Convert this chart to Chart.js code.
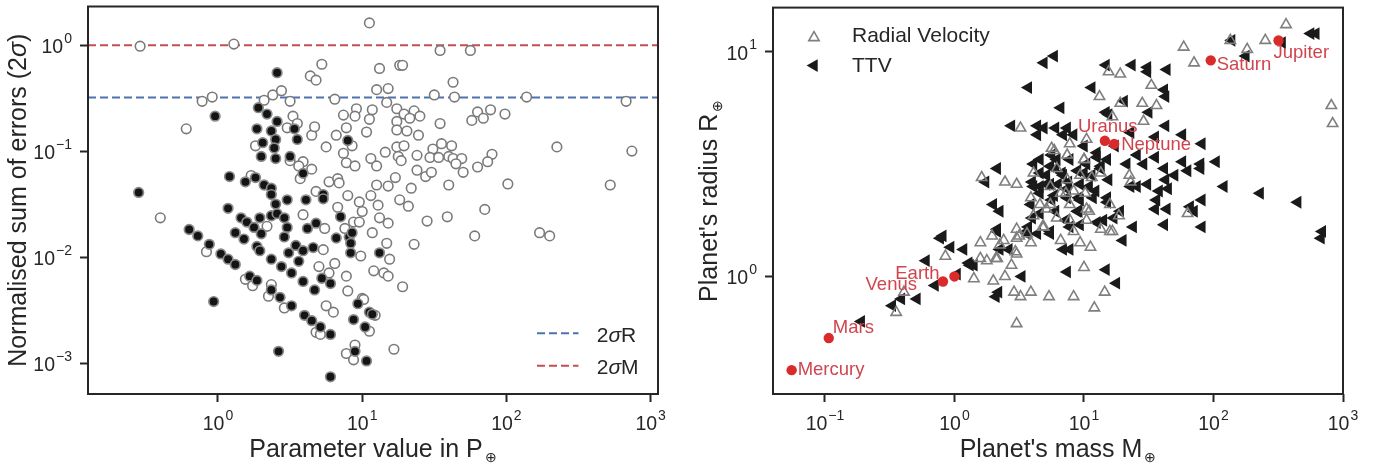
<!DOCTYPE html>
<html>
<head>
<meta charset="utf-8">
<script src="https://cdn.jsdelivr.net/npm/chart.js@4.4.1/dist/chart.umd.min.js"></script>
<style>
  body { margin: 0; background: #fff; }
  #wrap { position: relative; width: 1384px; height: 470px; }
  .box { position: absolute; top: 0; height: 470px; }
</style>
</head>
<body>
<div id="wrap">
  <div class="box" style="left:0;width:690px"><canvas id="c1" width="690" height="470"></canvas></div>
  <div class="box" style="left:690px;width:694px"><canvas id="c2" width="694" height="470"></canvas></div>
</div>
<script>
// ---- data (log10 values: [log x, log y]) ----
const openLog = [
  [-0.54,-0.01],[0.11,0.01],[-0.11,-0.53],[-0.04,-0.49],[-0.22,-0.79],[0.32,-0.52],[0.38,-0.47],[0.44,-0.43],
  [0.50,-0.53],[0.64,-0.29],[0.68,-0.33],[0.48,-0.78],[0.52,-0.67],[0.55,-0.74],[0.65,-0.85],[0.26,-0.95],
  [0.50,-1.09],[0.59,-1.10],[0.56,-1.14],[0.65,-1.17],[0.57,-1.26],[0.23,-1.23],[0.68,-1.38],
  [-0.40,-1.63],[0.59,-1.60],[0.34,-1.71],[-0.08,-1.95],[0.19,-2.21],[0.24,-2.27],[0.37,-2.26],[0.35,-2.37],
  [0.46,-2.48],[0.68,-2.71],
  [1.05,0.21],[1.54,-0.05],[1.75,-0.05],[0.72,-0.18],[1.12,-0.22],[1.26,-0.19],[1.28,-0.19],[1.63,-0.35],
  [1.10,-0.42],[1.18,-0.41],[1.17,-0.54],[0.81,-0.51],[1.50,-0.47],[1.64,-0.49],[0.87,-0.66],[0.96,-0.60],
  [0.95,-0.67],[1.07,-0.61],[1.05,-0.70],[1.24,-0.60],[1.29,-0.65],[1.36,-0.62],[1.33,-0.69],[1.40,-0.67],
  [1.24,-0.72],[1.24,-0.80],[1.31,-0.81],[1.39,-0.85],[1.54,-0.74],[1.76,-0.71],[1.80,-0.63],[1.84,-0.69],
  [1.89,-0.61],[0.67,-0.77],[0.89,-0.78],[0.82,-0.85],[0.93,-0.95],[0.75,-0.96],[1.03,-0.82],[0.87,-1.02],
  [0.89,-1.11],[0.95,-1.14],[1.06,-1.07],[1.10,-1.14],[1.16,-1.01],[1.24,-0.96],[1.29,-0.95],[1.25,-1.05],
  [1.27,-1.09],[1.38,-1.04],[1.49,-0.98],[1.55,-0.93],[1.62,-0.95],[1.47,-1.06],[1.53,-1.06],[1.60,-1.05],
  [1.63,-1.07],[1.69,-1.07],[1.65,-1.12],[1.90,-1.03],[1.87,-1.10],[1.80,-1.15],[1.70,-1.20],[1.38,-1.18],
  [1.44,-1.24],[1.48,-1.20],[1.60,-1.32],[0.77,-1.29],[0.83,-1.26],[0.84,-1.30],[1.10,-1.32],[1.18,-1.33],
  [1.23,-1.25],[1.34,-1.35],[0.90,-1.42],[0.98,-1.48],[1.06,-1.42],[1.11,-1.51],[1.26,-1.46],[1.32,-1.52],
  [1.00,-1.57],[0.83,-1.53],[1.12,-1.63],[1.18,-1.68],[1.45,-1.66],[1.59,-1.62],[1.85,-1.55],[1.78,-1.80],
  [0.74,-1.73],[0.88,-1.73],[0.94,-1.67],[0.98,-1.67],[1.07,-1.77],[1.17,-1.87],[0.99,-1.99],[1.19,-2.02],
  [1.36,-1.88],[0.73,-1.93],[0.81,-2.06],[0.70,-2.09],[0.77,-2.15],[0.89,-2.18],[0.90,-2.32],[1.08,-2.13],
  [1.15,-2.15],[1.18,-2.18],[1.28,-2.28],[1.22,-2.87],[1.00,-2.39],[1.01,-2.40],[0.75,-2.46],[0.80,-2.52],
  [0.71,-2.73],[1.09,-2.55],[1.05,-2.70],[0.95,-2.83],[0.89,-2.91],[0.94,-2.97],
  [2.14,-0.49],[2.83,-0.53],[1.99,-0.65],[2.35,-0.96],[2.87,-1.00],[2.01,-1.31],[2.72,-1.32],[2.23,-1.77],[2.30,-1.80]
];
const filledLog = [
  [0.41,-0.26],[-0.02,-0.67],[-0.55,-1.39],[0.08,-1.24],[0.28,-0.59],[0.34,-0.65],[0.41,-0.72],[0.27,-0.79],
  [0.37,-0.81],[0.53,-0.79],[0.55,-0.89],[0.40,-0.89],[0.31,-0.92],[0.39,-0.97],[0.30,-1.05],[0.40,-1.07],
  [0.50,-1.05],[0.59,-1.21],[0.19,-1.29],[0.26,-1.25],[0.32,-1.32],[0.37,-1.35],[0.37,-1.41],[0.48,-1.46],[0.61,-1.46],
  [0.07,-1.54],[0.40,-1.50],[0.37,-1.61],[0.41,-1.59],[0.46,-1.63],[0.16,-1.63],[0.20,-1.67],[0.29,-1.63],
  [0.25,-1.72],[0.30,-1.78],[0.48,-1.72],[0.46,-1.81],[0.62,-1.73],[0.68,-1.68],[-0.20,-1.74],[-0.14,-1.80],
  [-0.06,-1.88],[0.12,-1.77],[0.18,-1.83],[0.27,-1.90],[0.29,-1.94],[0.37,-2.02],[0.44,-2.09],[0.51,-2.15],
  [0.59,-2.23],[0.54,-1.89],[0.59,-1.94],[0.66,-1.91],[0.49,-1.96],[0.56,-2.04],[0.67,-2.31],[0.02,-1.97],
  [0.07,-2.02],[0.12,-2.07],[0.22,-2.18],[0.27,-2.22],[0.37,-2.31],[0.43,-2.38],[0.51,-2.46],[0.60,-2.55],
  [0.65,-2.60],[-0.03,-2.42],[0.42,-2.89],
  [0.90,-0.90],[0.73,-1.41],[0.73,-1.45],[0.85,-1.62],[0.82,-1.82],[0.91,-1.81],[0.93,-1.77],[0.92,-1.87],
  [0.92,-1.96],[1.12,-1.96],[0.72,-2.20],[0.78,-2.25],[0.97,-2.44],[0.71,-2.66],[0.78,-2.73],[0.94,-2.59],
  [1.05,-2.52],[1.07,-2.54],[1.02,-2.66],[0.95,-2.89],[1.03,-2.98],[0.78,-3.13]
];
const sigmaR = 0.32;
const sigmaM = 1.0;
const leftLegend = ['2σR', '2σM'];

const rvLog = [
  [0.51,0.66],[0.21,0.44],[0.39,0.42],[0.48,0.41],[0.59,0.35],[0.61,0.46],[0.48,0.21],
  [0.20,0.15],[-0.07,0.09],[0.20,0.08],[0.25,0.07],[0.32,0.08],[0.38,0.16],[0.47,0.11],[0.44,0.05],
  [0.15,-0.01],[0.39,0.00],[0.30,-0.02],[0.46,-0.07],[0.51,-0.09],[0.59,-0.07],[-0.39,-0.07],[-0.45,-0.16],
  [0.48,-0.21],[0.29,0.18],[0.50,0.18],
  [2.56,1.12],[2.40,1.05],[2.26,1.01],[2.13,1.05],[1.77,1.02],[1.85,0.95],[2.91,0.76],[2.92,0.68],
  [1.19,0.91],[1.28,0.90],[1.52,0.85],[1.12,0.80],[1.28,0.77],[1.45,0.77],[1.56,0.76],[1.46,0.69],
  [1.22,0.71],[0.89,0.59],[0.75,0.57],[1.02,0.61],[1.00,0.52],[1.35,0.45],[1.36,0.42],[1.80,0.28],
  [1.20,0.32],[1.27,0.27],[1.04,0.29],[0.89,0.25],[0.71,0.30],[0.68,0.22],[1.22,0.20],[0.86,0.37],[1.13,0.46],
  [1.00,0.04],[1.16,-0.07],[0.73,-0.09],[0.92,-0.09],[1.08,-0.14],[1.05,0.13],[0.97,0.15],[0.82,0.16],
  [0.77,0.56],[0.87,0.54],[1.00,0.52],[0.79,0.48],[0.87,0.43],[0.97,0.45],[1.06,0.44],[0.74,0.40],
  [0.82,0.37],[0.92,0.38],[1.01,0.37],[0.66,0.32],[0.74,0.32],[0.89,0.32],[1.02,0.30],[0.61,0.27],
  [0.79,0.26],[1.02,0.25],[0.69,0.22],[0.92,0.20],[0.56,0.19],[1.13,0.21],[1.20,0.20],
  [0.35,0.14],[0.48,0.17],[0.59,0.15],[0.48,0.10],[0.33,0.08]
];
const ttvLog = [
  [0.69,0.95],[0.57,0.84],[0.44,0.67],[0.64,0.67],[0.64,0.63],[0.33,0.48],[0.61,0.50],[0.24,0.42],
  [0.60,0.42],[0.30,0.32],[0.35,0.29],[0.60,0.26],[0.33,0.21],[-0.09,0.18],
  [-0.11,0.17],[-0.03,0.13],[0.07,0.12],[-0.22,0.07],[-0.15,-0.04],[0.02,0.01],[0.12,0.05],[0.15,0.05],
  [0.35,0.12],[0.42,0.12],[0.52,0.00],[0.34,-0.07],[0.32,-0.09],[-0.29,-0.10],[-0.41,-0.10],[-0.48,-0.13],
  [-0.72,-0.20],[0.33,0.20],[0.56,0.20],
  [2.75,1.08],[2.79,1.08],[2.14,1.05],[2.25,0.98],[2.53,1.04],[0.77,0.98],[1.17,0.94],[1.37,0.94],
  [1.49,0.93],[1.49,0.91],[1.64,0.92],[1.06,0.84],[0.82,0.75],[1.31,0.78],[1.17,0.73],[1.19,0.72],
  [1.50,0.73],[1.62,0.83],[1.63,0.80],[0.69,0.66],[0.78,0.66],[0.87,0.66],[0.84,0.63],[0.92,0.63],
  [1.36,0.64],[1.63,0.67],[1.76,0.63],[1.91,0.59],[1.55,0.62],[1.00,0.58],[1.10,0.55],[1.24,0.58],
  [1.41,0.54],[1.33,0.50],[1.46,0.50],[1.55,0.53],[1.62,0.48],[1.76,0.51],[1.80,0.47],[1.90,0.50],
  [1.90,0.48],[2.02,0.51],[1.70,0.45],[1.63,0.43],[2.08,0.40],[2.36,0.37],[2.65,0.33],[2.84,0.20],
  [1.13,0.49],[1.19,0.43],[1.36,0.40],[1.41,0.40],[1.49,0.41],[1.58,0.38],[1.65,0.39],[1.56,0.34],
  [1.55,0.30],[1.64,0.30],[1.91,0.34],[1.82,0.31],[1.85,0.29],[1.62,0.23],[1.38,0.22],[1.91,0.22],
  [1.28,0.29],[1.15,0.25],[0.96,0.29],[0.97,0.34],[0.87,0.39],[0.74,0.41],[1.09,0.38],[1.18,0.35],
  [1.06,0.45],[1.00,0.46],[0.83,0.46],[0.74,0.49],[0.66,0.40],[0.89,0.22],[0.75,0.34],
  [2.83,0.17],[1.30,0.16],[0.84,0.12],[0.89,0.12],[0.87,0.02],[1.17,0.03],[1.25,-0.03],[0.74,0.19],
  [0.66,0.52],[0.75,0.54],[0.79,0.52],[0.89,0.52],[0.66,0.46],[0.71,0.45],[0.78,0.48],[0.84,0.45],
  [0.95,0.47],[1.02,0.50],[1.10,0.53],[1.18,0.52],[1.13,0.48],[0.61,0.40],[0.71,0.41],[0.80,0.41],
  [0.88,0.42],[0.97,0.41],[1.04,0.40],[0.66,0.37],[0.77,0.36],[0.87,0.35],[0.96,0.35],[1.07,0.35],
  [1.18,0.33],[0.59,0.32],[0.66,0.28],[0.78,0.29],[0.86,0.25],[0.95,0.29],[0.97,0.23],[1.10,0.24],
  [1.23,0.26],[0.57,0.22],[0.74,0.20],[0.64,0.19],[0.11,0.06],[0.56,0.19]
];
const planetNames  = ['Mercury','Venus','Earth','Mars','Jupiter','Saturn','Uranus','Neptune'];
const planetMass   = [0.0553, 0.815, 1.0, 0.107, 317.8, 95.2, 14.5, 17.1];
const planetRadius = [0.383, 0.949, 1.0, 0.532, 11.2, 9.14, 4.01, 3.88];
const rightLegend = ['Radial Velocity', 'TTV'];

// axis limits
const X1 = [0.1255, 1125], Y1 = [5.1e-4, 2.317];
const X2 = [0.0397, 1000], Y2 = [0.322, 15.69];

// ---- styling ----
const INK = '#262626';
const FONT = '"Liberation Sans", Arial, Helvetica, sans-serif';
const BLUE = '#4c72b0', RED = '#c44e52';
const PLANET = '#d92b2b', PLANET_TXT = '#d0454d';
// label offsets (px) and alignment for planet names
const planetLabel = [[6,5,'left'],[-26,8,'right'],[-15,3,'right'],[4,-5,'left'],[-5,17.5,'left'],[6,9.5,'left'],[-27,-8.5,'left'],[7,6,'left']];

const toPts = arr => arr.map(([lx, ly]) => ({ x: 10 ** lx, y: 10 ** ly }));
const fontOf = p => (p.italic ? 'italic ' : '') + p.size + 'px ' + FONT;
const sup = e => (e < 0 ? '\u2212' : '') + Math.abs(e);

function rich(ctx, parts, x, y, align) {
  let w = 0;
  parts.forEach(p => { ctx.font = fontOf(p); p.w = ctx.measureText(p.text).width; w += p.w + (p.gap || 0); });
  let cx = align === 'center' ? x - w / 2 : align === 'right' ? x - w : x;
  parts.forEach(p => {
    cx += p.gap || 0;
    ctx.font = fontOf(p);
    ctx.fillText(p.text, cx, y + (p.dy || 0));
    cx += p.w;
  });
}
const sigmaParts = (s, size) => s.split('σ').flatMap((t, i) => i ? [{ text: 'σ', size, italic: true }, { text: t, size }] : [{ text: t, size }]);

function decadesOnly(scale) {
  scale.ticks = scale.ticks.filter(t => Math.abs(Math.log10(t.value) - Math.round(Math.log10(t.value))) < 1e-6);
}
function logAxis(lim, w, h) {
  return {
    type: 'logarithmic', min: lim[0], max: lim[1],
    afterBuildTicks: decadesOnly,
    afterFit: s => { if (w) s.width = w; if (h) s.height = h; },
    ticks: { display: false },
    border: { display: false },
    grid: { display: true, drawOnChartArea: false, drawTicks: true, tickLength: 8, tickWidth: 2, tickColor: INK }
  };
}
const tickParts = e => [{ text: '10', size: 19.5 }, { text: sup(e), size: 14, dy: -10.5, gap: 1 }];

function deco(cfg) {
  return {
    id: 'deco',
    afterDatasetsDraw(chart) { if (cfg.marks) cfg.marks(chart); },
    afterDraw(chart) {
      const ctx = chart.ctx, a = chart.chartArea;
      ctx.save();
      ctx.strokeStyle = INK; ctx.lineWidth = 2;
      ctx.strokeRect(a.left, a.top, a.right - a.left, a.bottom - a.top);
      ctx.fillStyle = INK; ctx.textBaseline = 'alphabetic';
      const xs = chart.scales.x, ys = chart.scales.y;
      xs.ticks.forEach(t => {
        rich(ctx, tickParts(Math.round(Math.log10(t.value))), xs.getPixelForValue(t.value), a.bottom + 36, 'center');
      });
      ys.ticks.forEach(t => {
        rich(ctx, tickParts(Math.round(Math.log10(t.value))), a.left - 16, ys.getPixelForValue(t.value) + 8, 'right');
      });
      rich(ctx, cfg.xTitle, (a.left + a.right) / 2, 456.5, 'center');
      ctx.translate(cfg.yTitleX, (a.top + a.bottom) / 2);
      ctx.rotate(-Math.PI / 2);
      rich(ctx, cfg.yTitle, 0, 0, 'center');
      ctx.restore();
      ctx.save();
      cfg.legend(chart);
      ctx.restore();
    }
  };
}

// ---- left chart ----
new Chart(document.getElementById('c1'), {
  type: 'scatter',
  data: {
    datasets: [
      { label: 'filled', data: toPts(filledLog), pointRadius: 4.8, pointBackgroundColor: '#141414', pointBorderColor: '#8a8a8a', pointBorderWidth: 1.7 },
      { label: 'open', data: toPts(openLog), pointRadius: 4.8, pointBackgroundColor: '#ffffff', pointBorderColor: '#7a7a7a', pointBorderWidth: 1.6 },
      { label: leftLegend[0], data: [{ x: X1[0], y: sigmaR }, { x: X1[1], y: sigmaR }], showLine: true, borderColor: BLUE, borderWidth: 2, borderDash: [8, 4], pointRadius: 0 },
      { label: leftLegend[1], data: [{ x: X1[0], y: sigmaM }, { x: X1[1], y: sigmaM }], showLine: true, borderColor: RED, borderWidth: 2, borderDash: [8, 4], pointRadius: 0 }
    ]
  },
  options: {
    responsive: false, animation: false, events: [],
    layout: { padding: { top: 3, right: 32, left: 0, bottom: 0 } },
    plugins: { legend: { display: false }, tooltip: { enabled: false } },
    scales: { x: logAxis(X1, 0, 76), y: logAxis(Y1, 88, 0) }
  },
  plugins: [deco({
    xTitle: [{ text: 'Parameter value in P', size: 25 }, { text: '\u2295', size: 14, dy: 5, gap: 2 }],
    yTitle: sigmaParts('Normalised sum of errors (2σ)', 25),
    yTitleX: 25.5,
    legend(chart) {
      const ctx = chart.ctx, a = chart.chartArea;
      [2, 3].forEach((di, k) => {
        const ds = chart.data.datasets[di], y = a.bottom - 60.7 + k * 32.4;
        ctx.strokeStyle = ds.borderColor; ctx.lineWidth = ds.borderWidth; ctx.setLineDash(ds.borderDash);
        ctx.beginPath(); ctx.moveTo(a.right - 121, y); ctx.lineTo(a.right - 79.5, y); ctx.stroke();
        ctx.setLineDash([]);
        ctx.fillStyle = INK;
        rich(ctx, sigmaParts(ds.label, 21), a.right - 61.3, y + 8.5, 'left');
      });
    }
  })]
});

// ---- right chart ----
function triangle(ctx, x, y, r, rot) {
  ctx.beginPath();
  for (let i = 0; i < 3; i++) {
    const t = (rot + i * 120) * Math.PI / 180;
    const px = x + Math.sin(t) * r, py = y - Math.cos(t) * r;
    i ? ctx.lineTo(px, py) : ctx.moveTo(px, py);
  }
  ctx.closePath();
}

new Chart(document.getElementById('c2'), {
  type: 'scatter',
  data: {
    datasets: [
      { label: 'planets', data: planetMass.map((m, i) => ({ x: m, y: planetRadius[i] })), pointRadius: 5.2, pointBackgroundColor: PLANET, pointBorderColor: PLANET, pointBorderWidth: 0 },
      { label: rightLegend[0], data: toPts(rvLog), pointStyle: 'triangle', pointRadius: 6, pointBackgroundColor: 'rgba(0,0,0,0)', pointBorderColor: '#7f7f7f', pointBorderWidth: 1.6 },
      { label: rightLegend[1], data: toPts(ttvLog), pointStyle: 'triangle', pointRotation: -90, pointRadius: 7.4, pointBackgroundColor: '#1a1a1a', pointBorderColor: '#1a1a1a', pointBorderWidth: 0 }
    ]
  },
  options: {
    responsive: false, animation: false, events: [],
    layout: { padding: { top: 3, right: 41, left: 0, bottom: 0 } },
    plugins: { legend: { display: false }, tooltip: { enabled: false } },
    scales: { x: logAxis(X2, 0, 76), y: logAxis(Y2, 83, 0) }
  },
  plugins: [deco({
    xTitle: [{ text: "Planet's mass M", size: 25 }, { text: '\u2295', size: 14, dy: 5, gap: 2 }],
    yTitle: [{ text: "Planet's radius R", size: 25 }, { text: '\u2295', size: 14, dy: 5, gap: 2 }],
    yTitleX: 26.5,
    marks(chart) {
      const ctx = chart.ctx, pts = chart.getDatasetMeta(0).data;
      ctx.save();
      ctx.fillStyle = PLANET_TXT; ctx.textBaseline = 'alphabetic';
      ctx.font = '18.5px ' + FONT;
      planetNames.forEach((n, i) => {
        const [dx, dy, al] = planetLabel[i];
        ctx.textAlign = al;
        ctx.fillText(n, pts[i].x + dx, pts[i].y + dy);
      });
      ctx.restore();
    },
    legend(chart) {
      const ctx = chart.ctx, a = chart.chartArea;
      const mx = a.left + 41;
      triangle(ctx, mx, a.top + 30, 6, 0);
      ctx.strokeStyle = '#7f7f7f'; ctx.lineWidth = 1.6; ctx.stroke();
      triangle(ctx, mx, a.top + 58, 7.4, -90);
      ctx.fillStyle = '#1a1a1a'; ctx.fill();
      ctx.fillStyle = INK; ctx.font = '21px ' + FONT; ctx.textBaseline = 'alphabetic';
      ctx.fillText(chart.data.datasets[1].label, a.left + 79, a.top + 34.5);
      ctx.fillText(chart.data.datasets[2].label, a.left + 79, a.top + 64);
    }
  })]
});
</script>
</body>
</html>
